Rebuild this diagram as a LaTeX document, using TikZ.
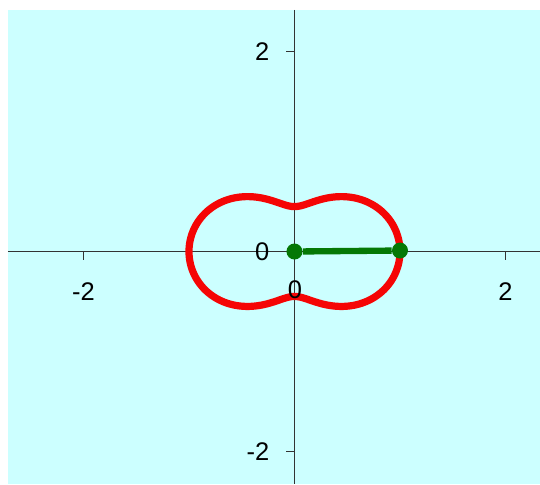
\documentclass[tikz,border=0pt]{standalone}
\usepackage{fontspec}
\setmainfont{Liberation Sans}
\usetikzlibrary{positioning}
\definecolor{paleaqua}{rgb}{0.80,1.00,1.00}
\definecolor{curvered}{rgb}{0.96,0.02,0.02}
\definecolor{segmentgreen}{rgb}{0.02,0.47,0.02}
\tikzset{
  axis/.style={
    draw=black!80,
    line width=0.6pt
  },
  ticklabel/.style={
    inner sep=0pt,
    font=\fontsize{14.5}{17}\selectfont
  },
  curve/.style={
    draw=curvered,
    line width=4.1pt
  },
  segment/.style={
    draw=segmentgreen,
    line width=3.6pt
  },
  dot/.style={
    circle,
    fill=segmentgreen,
    inner sep=0pt,
    minimum size=0.32cm
  }
}

\begin{document}
\begin{tikzpicture}[x=2.11cm,y=1.996cm]
\useasboundingbox (-2.791,-2.330) rectangle (2.327,2.520);
\fill[white] (-2.791,-2.330) rectangle (2.327,2.520);
\fill[paleaqua] (-2.716,-2.330) rectangle (2.327,2.420);
\draw[axis] (-2.716,0) -- (2.327,0);
\draw[axis] (0,2.420) -- (0,-2.330);
\foreach \t in {-2,2} {
  \draw[axis] (\t,0) -- (\t,-0.08);
  \draw[axis] (0,\t) -- (-0.076,\t);
}
\draw[curve,smooth,samples=120,domain=0:360]
  plot ({(0.746+0.275*cos(2*\x)-0.021*cos(4*\x))*cos(\x)},
        {(0.746+0.275*cos(2*\x)-0.021*cos(4*\x))*sin(\x)}) -- cycle;
\node[ticklabel] (xm) at (-2,-0.405) {-2};
\node[ticklabel] (xp) at (2,-0.405) {2};
\node[ticklabel] (xo) at (0.005,-0.386) {0};
\node[ticklabel,anchor=east] (yp) at (-0.235,2) {2};
\node[ticklabel,anchor=east] (ym) at (-0.235,-2) {-2};
\node[ticklabel,anchor=east] (yo) at (-0.235,0) {0};
\node[dot] (o) at (0,0) {};
\node[dot] (p) at (1,0.01) {};
\draw[segment] (o) -- (p);
\end{tikzpicture}
\end{document}
